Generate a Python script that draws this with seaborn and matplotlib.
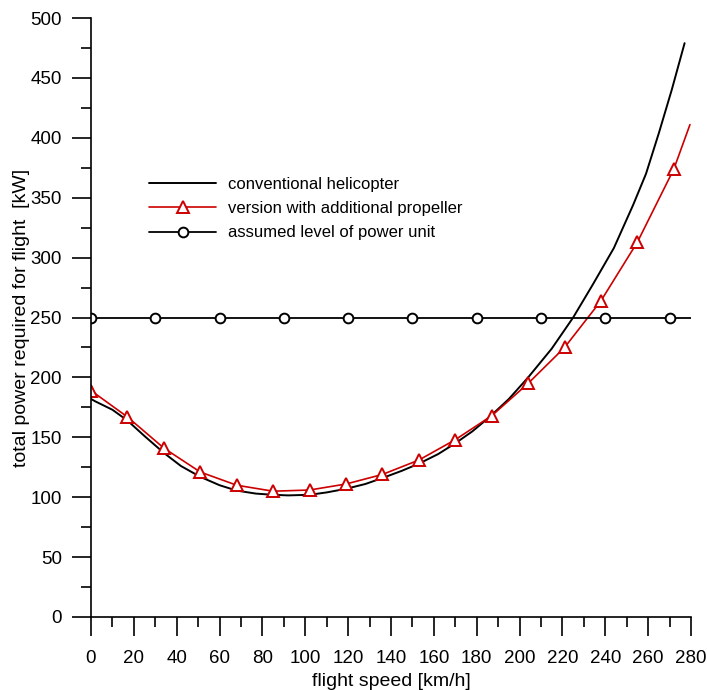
import numpy as np
import pandas as pd
import seaborn as sns
import matplotlib.pyplot as plt
from matplotlib.ticker import MultipleLocator
from matplotlib.lines import Line2D

conv_speed = [0, 2, 10, 17, 25, 34, 42, 51, 60, 68, 77, 85, 92, 102, 110, 119, 128, 136,
              145, 153, 162, 170, 178, 186, 195, 204, 215, 225, 234, 244, 253, 259, 265, 271, 277]
conv_power = [182, 180, 173, 164, 151, 137, 126, 117, 110, 105.5, 103, 102, 101.5, 102, 104, 107, 111, 116,
              122, 128, 136, 145, 155, 167, 182, 200, 224, 250, 277, 308, 344, 370, 404, 440, 479]

prop_speed = [0, 17, 34, 51, 68, 85, 102, 119, 136, 153, 170, 187, 204, 221, 238, 255, 272, 279.5]
prop_power = [189, 167, 141, 121, 110, 105, 106, 111, 119, 131, 148, 168, 195, 225, 264, 313, 374, 411]

unit_speed = [0, 30, 60, 90, 120, 150, 180, 210, 240, 270]
unit_power = [250] * 10

sns.set_style("ticks")
plt.rcParams['font.family'] = ['Liberation Sans', 'DejaVu Sans']
plt.rcParams['text.color'] = 'black'
plt.rcParams['axes.labelcolor'] = 'black'
plt.rcParams['xtick.color'] = 'black'
plt.rcParams['ytick.color'] = 'black'

fig = plt.figure(figsize=(7.07, 6.90), dpi=100)
ax = fig.add_axes([0.1287, 0.1058, 0.8487, 0.8681])

red = "#cc0000"
sns.lineplot(x=conv_speed, y=conv_power, ax=ax, color="black", lw=1.4,
             label="conventional helicopter")
# triangles on every read point except the line's end
sns.lineplot(x=prop_speed, y=prop_power, ax=ax, color=red, lw=1.2, marker="^",
             markevery=list(range(len(prop_speed) - 1)),
             markersize=9, markerfacecolor="white", markeredgecolor=red, markeredgewidth=1.4,
             label="version with additional propeller")
ax.axhline(250, color="black", lw=1.3)
sns.lineplot(x=unit_speed, y=unit_power, ax=ax, color="black", lw=0, marker="o",
             markersize=7, markerfacecolor="white", markeredgecolor="black",
             markeredgewidth=1.4, legend=False)

ax.set_xlim(0, 280)
ax.set_ylim(0, 500)
ax.xaxis.set_major_locator(MultipleLocator(20))
ax.xaxis.set_minor_locator(MultipleLocator(10))
ax.yaxis.set_major_locator(MultipleLocator(50))
ax.yaxis.set_minor_locator(MultipleLocator(25))
ax.tick_params(which="major", length=14, width=1.2, direction="out", labelsize=13.5)
ax.tick_params(axis="x", which="major", pad=10)
ax.tick_params(axis="y", which="major", pad=7)
ax.tick_params(which="minor", length=7, width=1.2, direction="out")
sns.despine(ax=ax)
for s in ["left", "bottom"]:
    ax.spines[s].set_linewidth(1.2)
    ax.spines[s].set_color("black")

ax.set_xlabel("flight speed [km/h]", fontsize=14, labelpad=4)
ax.set_ylabel("total power required for flight  [kW]", fontsize=14, labelpad=0)

handles, labels = ax.get_legend_handles_labels()
handles.append(Line2D([], [], color="black", lw=1.3, marker="o", markersize=7,
                      markerfacecolor="white", markeredgecolor="black", markeredgewidth=1.4))
labels.append("assumed level of power unit")
ax.legend(handles, labels, frameon=False, fontsize=12, loc="upper left",
          bbox_to_anchor=(0.19, 0.765), bbox_transform=fig.transFigure,
          handlelength=4.0, handletextpad=0.7, labelspacing=0.55)

fig.savefig("out.png", dpi=100)
